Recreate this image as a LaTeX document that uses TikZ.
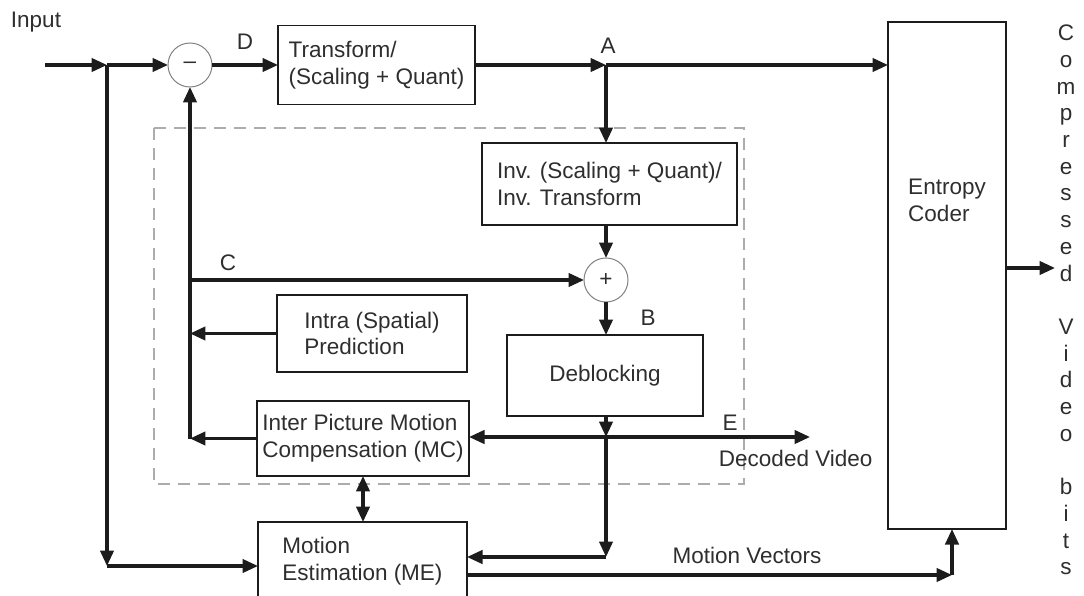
\documentclass[tikz,border=0pt]{standalone}
\usepackage{fontspec}
\setmainfont{Liberation Sans}
\usetikzlibrary{positioning}
\usetikzlibrary{arrows.meta}
\definecolor{ink}{HTML}{1C1C1C}
\definecolor{txt}{HTML}{2E2E2E}

\begin{document}
\begin{tikzpicture}
[   x=0.025cm,
    y=-0.025cm,
    font=\fontsize{16}{19}\selectfont,
    text=txt,
    block/.style={draw=ink, line width=1.2pt, align=left, inner sep=2pt, outer sep=0pt},
    sum/.style={circle, draw=gray, line width=0.7pt, minimum size=1.1cm, inner sep=0pt, outer sep=0pt},
    flow/.style={draw=ink, line width=2.2pt, -{Triangle[length=11pt,width=9.5pt]}},
    both/.style={flow, {Triangle[length=11pt,width=9.5pt]}-{Triangle[length=11pt,width=9.5pt]}}
]
\useasboundingbox (0,0) rectangle (1084,596);

\draw[gray!65, line width=0.9pt, dash pattern=on 0.3cm off 0.2cm] (154,128) rectangle (744,484);

\node[block, minimum width=4.925cm, minimum height=1.975cm] (tq) at (376.5,65) {Transform/\\(Scaling + Quant)};
\node[block, minimum width=6.375cm, minimum height=2.05cm] (iq) at (609.5,184) {Inv. (Scaling + Quant)/\\Inv. Transform};
\node[block, minimum width=4.75cm, minimum height=1.925cm] (intra) at (372,333.5) {Intra (Spatial)\\Prediction};
\node[block, minimum width=5.3cm, minimum height=1.875cm] (mc) at (363,438.5) {Inter Picture Motion\\Compensation (MC)};
\node[block, minimum width=4.9cm, minimum height=2.025cm] (dbk) at (605,375.5) {Deblocking};
\node[block, minimum width=5.225cm, minimum height=1.95cm] (me) at (362.5,561) {Motion\\Estimation (ME)};
\node[block, minimum width=2.95cm, minimum height=12.675cm,
      label={[align=left, yshift=1.875cm]center:Entropy\\Coder}] (ec) at (947,275.5) {};

\node[sum] (sub) at (190,65) {\textendash};
\node[sum] (add) at (606,280) {+};

\node[anchor=west] (lbin) at (6,22) {Input};
\node (lbD) at (245,42) {D};
\node (lbA) at (608,46) {A};
\node (lbC) at (228,263) {C};
\node (lbB) at (648,318) {B};
\node (lbE) at (730,423) {E};
\node[anchor=west] (lbdec) at (714,458) {Decoded Video};
\node (lbmv) at (747,555) {Motion Vectors};
\node[align=center] (bits) at (1066,300)
  {C\\o\\m\\p\\r\\e\\s\\s\\e\\d\\\mbox{}\\V\\i\\d\\e\\o\\\mbox{}\\b\\i\\t\\s};

\coordinate (in) at (45,65);
\coordinate (jin) at (107,65);
\coordinate (jlow) at (107,566);
\coordinate (jA) at (606,65);
\coordinate (jE) at (606,437);
\coordinate (jD) at (606,557);
\coordinate (dec) at (810,437);
\coordinate (jmv) at (952,575);
\coordinate (out) at (1055,268);

\draw[flow] (in) -- (jin);
\draw[flow] (jin) -- (sub);
\draw[flow] (jin) -- (jlow);
\draw[flow] (jlow) -- (jlow -| me.west);
\draw[flow] (sub) -- (tq);
\draw[flow] (tq) -- (jA);
\draw[flow] (jA) -- (jA -| ec.west);
\draw[flow] (jA) -- (jA |- iq.north);
\draw[flow] (jA |- iq.south) -- (add);
\draw[flow] (add.west -| sub) -- (add);
\draw[flow] (add) -- (add |- dbk.north);
\draw[flow] (intra.west) -- (intra.west -| sub);
\draw[flow] (mc.west) -- (mc.west -| sub);
\draw[flow] (mc.west -| sub) -- (sub);
\draw[flow] (add |- dbk.south) -- (jE);
\draw[flow] (jE) -- (jE -| mc.east);
\draw[flow] (jE) -- (dec);
\draw[flow] (jE) -- (jD);
\draw[flow] (jD) -- (jD -| me.east);
\draw[both] (mc.south) -- (mc.south |- me.north);
\draw[flow] (jmv -| me.east) -- (jmv);
\draw[flow] (jmv) -- (jmv |- ec.south);
\draw[flow] (ec.east |- out) -- (out);
\end{tikzpicture}
\end{document}
